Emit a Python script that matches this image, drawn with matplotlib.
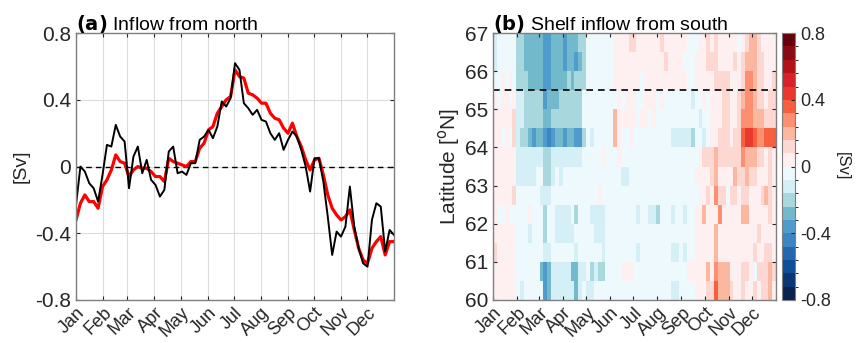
import numpy as np
import matplotlib
matplotlib.use("Agg")
import matplotlib.pyplot as plt
from matplotlib.colors import ListedColormap, BoundaryNorm

plt.rcParams['font.family'] = ['Liberation Sans', 'DejaVu Sans']

months = ['Jan', 'Feb', 'Mar', 'Apr', 'May', 'Jun', 'Jul', 'Aug', 'Sep', 'Oct', 'Nov', 'Dec']
month_start = [0, 31, 59, 90, 120, 151, 181, 212, 243, 273, 304, 334]

# (a) pentad transports [Sv]
north_black = [-0.23, 0.00, -0.03, -0.10, -0.13, -0.21, -0.05, 0.13, 0.12, 0.25,
               0.18, 0.15, -0.13, 0.06, 0.12, -0.04, 0.04, -0.08, -0.11, -0.18,
               -0.14, 0.09, 0.12, -0.04, -0.03, -0.05, 0.02, 0.02, 0.16, 0.18,
               0.22, 0.17, 0.24, 0.39, 0.36, 0.41, 0.62, 0.58, 0.38, 0.35,
               0.31, 0.34, 0.28, 0.27, 0.20, 0.16, 0.20, 0.10, 0.16, 0.21,
               0.18, 0.10, 0.00, -0.15, 0.05, 0.05, -0.09, -0.30, -0.53, -0.39,
               -0.42, -0.36, -0.12, -0.36, -0.49, -0.58, -0.60, -0.32, -0.22, -0.24,
               -0.51, -0.38, -0.41]
north_red = [-0.32, -0.22, -0.17, -0.21, -0.21, -0.25, -0.12, -0.08, -0.02, 0.07,
             0.03, 0.02, -0.06, -0.02, 0.00, -0.01, -0.01, -0.03, -0.06, -0.06,
             -0.09, 0.05, 0.03, 0.02, 0.01, 0.00, 0.03, 0.03, 0.11, 0.14,
             0.22, 0.24, 0.32, 0.36, 0.40, 0.42, 0.58, 0.54, 0.53, 0.44,
             0.43, 0.41, 0.38, 0.38, 0.32, 0.29, 0.28, 0.23, 0.20, 0.26,
             0.18, 0.12, 0.04, -0.02, 0.04, 0.05, -0.05, -0.17, -0.25, -0.29,
             -0.32, -0.30, -0.26, -0.38, -0.49, -0.56, -0.58, -0.49, -0.45, -0.42,
             -0.53, -0.45, -0.45]

# (b) shelf inflow per latitude band (60-67N, 0.5 deg), pentads Jan..Dec
# letters code the colour class: a..f = -0.04..-0.44, A..F = 0.04..0.44
level = {'a': -0.04, 'b': -0.12, 'c': -0.20, 'd': -0.28, 'e': -0.36, 'f': -0.44,
         'A': 0.04, 'B': 0.12, 'C': 0.20, 'D': 0.28, 'E': 0.36, 'F': 0.44}
lat_edges = np.arange(60, 67.01, 0.5)
south_rows = [  # bottom (60N) to top (67N)
    "AAAAAA" "abaaaa" "aedbbb" "bbbdba" "bbaaaa" "aaaaaa" "aaaaaa" "aaaabb" "aaaaAA" "ABBECC" "CBAABA" "ABABBCA",
    "AAAAAA" "aaaaaa" "dedbbb" "bbddbb" "acbcca" "aaaAAA" "aaaaaa" "aaaaaa" "aaAAAA" "ACADCC" "CAAABB" "AaBBBCB",
    "BAAAAA" "aaaaaa" "abbaaa" "aaabaa" "aaaaba" "aaaaaa" "abaaaa" "aaaabb" "abaaAA" "AAACAA" "AAAAAA" "ABAABBA",
    "AAAAAA" "aaabaa" "acaabb" "bbbaaa" "aabbba" "aaaaaa" "aaaaaa" "aaaaaa" "aaaaAA" "AAACAA" "AAAAAA" "AABAAAA",
    "AaaAaa" "aaaAaa" "acaabb" "bbacaa" "abbbba" "aaaaaa" "abaabb" "caaaba" "abaaAA" "CAAADA" "AAAACC" "AAAAABA",
    "AAAAAB" "aaaaaa" "bbbaaa" "aaaaaa" "aaaAaa" "aaaaaa" "aaaaaa" "aaaaaa" "aaaaaA" "ABADBB" "aBBABB" "AAABCBA",
    "AAAAAA" "bbbbba" "accbab" "aaaaaa" "aaaaaa" "aaabba" "aaaaaa" "aaaaaa" "aaaaAA" "AABCAA" "AACBBC" "BBAAABA",
    "AAAAAA" "bbbbbb" "bccbbb" "bbbbba" "aaaaAa" "aaAaaa" "aaaaaa" "aaaaaa" "aaaaaA" "BBBCBB" "BBBBDC" "CCBBABA",
    "AAaAaB" "bccded" "defedd" "eddeec" "abaaaa" "aCAaaA" "aaaaaa" "aaaabb" "bbbcaa" "baAABB" "BABBEF" "FEDDEEE",
    "AAAAAB" "bbcccc" "cddccc" "ccccca" "aaaaaa" "aCAAAA" "AaAAaA" "aaaaaa" "aaaaab" "aaAAAB" "BAABDD" "DCCCBBB",
    "AaAAaA" "bbcccc" "cedddc" "ccccca" "aaaaaa" "aaAaAA" "AaaAAA" "aAaaaa" "aaabaa" "AaAAAB" "BAABCD" "DCBBABB",
    "aaAaAa" "cccddd" "deeddd" "dcdccc" "aaaaaa" "aAAAAA" "AAaAAA" "AAAAAA" "AAaaAA" "AAABBB" "BAAABD" "DCBBAAB",
    "baaaaa" "ccdddd" "deeddd" "eddedc" "aaaaaa" "aAAAAA" "AAAAAA" "AABAAA" "AaaaAA" "ABBBAA" "AABABC" "CCBBAAA",
    "baaaaa" "ccdddd" "deeddd" "edddcc" "aaaaaa" "aAAAAB" "BAAAAA" "ABAAAA" "AAaaaA" "ABABAA" "AAAaAB" "CCBAAAA",
]
south = np.array([[level[ch] for ch in row] for row in south_rows])

cb_colors = ['#08234e', '#0a3672', '#0d4f99', '#2368ae', '#3a86c2', '#4f9bcb',
             '#73b9cc', '#a8d8dd', '#d5eff6', '#eef9fd',
             '#fef0f1', '#fdd8d3', '#fcb7a0', '#fb8f6f', '#f6603f', '#e8392c',
             '#d62228', '#b31218', '#8b0b14', '#67000d']
cmap = ListedColormap(cb_colors)
bounds = np.linspace(-0.8, 0.8, 21)
norm = BoundaryNorm(bounds, cmap.N)

fig = plt.figure(figsize=(8.56, 3.43), dpi=100)
ax1 = fig.add_axes([0.0888, 0.1254, 0.3715, 0.778])
ax2 = fig.add_axes([0.576, 0.1254, 0.3306, 0.778])
cax = fig.add_axes([0.9136, 0.1254, 0.0152, 0.778])

txt = '#262626'

# ---- (a)
x = np.linspace(0, 365, len(north_black))
ax1.grid(True, color='#dcdcdc', lw=0.8)
ax1.set_axisbelow(True)
ax1.axhline(0, color='k', ls=(0, (4, 3)), lw=1.0)
ax1.plot(x, north_red, color='#ff0000', lw=2.3)
ax1.plot(x, north_black, color='k', lw=1.4)
ax1.set_xlim(0, 365)
ax1.set_ylim(-0.8, 0.8)
ax1.set_yticks([-0.8, -0.4, 0, 0.4, 0.8])
ax1.set_yticklabels(['-0.8', '-0.4', '0', '0.4', '0.8'])
ax1.set_ylabel('[Sv]', fontsize=14, color=txt, labelpad=4)
ax1.set_title(r'$\bf{(a)}$ Inflow from north', fontsize=14, loc='left', pad=2, color='k')

# ---- (b)
t_edges = np.linspace(0, 365, south.shape[1] + 1)
ax2.pcolormesh(t_edges, lat_edges, south, cmap=cmap, norm=norm)
ax2.axhline(65.5, color='k', ls=(0, (4, 3)), lw=1.2)
ax2.set_xlim(0, 365)
ax2.set_ylim(60, 67)
ax2.set_yticks(np.arange(60, 68))
ax2.set_ylabel(r'Latitude [$^{\rm o}$N]', fontsize=15, color=txt, labelpad=2)
ax2.set_title(r'$\bf{(b)}$ Shelf inflow from south', fontsize=14, loc='left', pad=2, color='k')

for ax, fs in [(ax1, 15), (ax2, 15)]:
    ax.set_xticks(month_start)
    ax.set_xticklabels(months, rotation=45, ha='right', rotation_mode='anchor')
    ax.tick_params(direction='in', colors=txt, labelsize=fs, top=True, right=True, length=3)
    ax.tick_params(axis='x', labelsize=13, pad=3)
    for s in ax.spines.values():
        s.set_color('#7f7f7f')
        s.set_linewidth(1.0)

cb = fig.colorbar(plt.cm.ScalarMappable(norm=norm, cmap=cmap), cax=cax)
cb.set_ticks([-0.8, -0.4, 0, 0.4, 0.8])
cb.set_ticklabels(['-0.8', '-0.4', '0', '0.4', '0.8'])
cb.ax.tick_params(direction='in', labelsize=13, colors=txt, length=3)
cb.outline.set_edgecolor('#7f7f7f')
cb.set_label('[Sv]', fontsize=12, color=txt, rotation=270, labelpad=14)

fig.savefig('out.png', dpi=100)
